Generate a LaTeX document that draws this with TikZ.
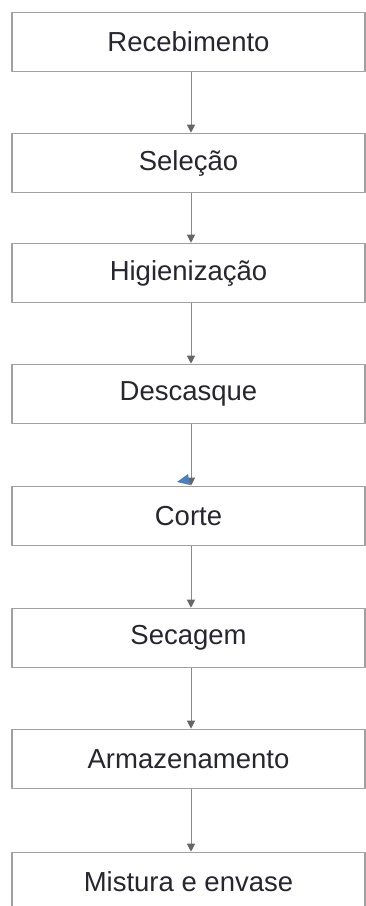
\documentclass[tikz,border=0pt]{standalone}
\usepackage{fontspec}
\setmainfont{Liberation Sans}
\usetikzlibrary{arrows.meta}

\definecolor{boxgray}{HTML}{A0A0A0}
\definecolor{linegray}{HTML}{8A8A8A}
\definecolor{tipgray}{HTML}{666666}
\definecolor{textdark}{HTML}{26262E}
\definecolor{tipblue}{HTML}{4A7FC0}

\tikzset{
  stepbox/.style={draw=boxgray, line width=1.6pt, fill=white,
    minimum width=353pt, minimum height=59pt, inner sep=0pt,
    text=textdark, font=\fontsize{27.5}{32}\selectfont},
  flow/.style={draw=linegray, line width=1pt,
    -{Triangle[width=8pt,length=8pt,color=tipgray]}}
}

\begin{document}
\begin{tikzpicture}[x=1pt, y=-1pt, line cap=round, line join=round]

  % ===== Page =====
  \useasboundingbox (0,0) rectangle (366,906);

  % ===== Process steps =====
  \def\cx{188.5}   % centre of the boxes
  \foreach \nm/\yy/\txt in {rec/42/Recebimento, sel/163/Seleção,
      hig/273/Higienização, des/394/Descasque, cor/516/Corte,
      sec/638/Secagem, arm/759/Armazenamento, mis/882/Mistura e envase}
    \node[stepbox] (\nm) at (\cx,\yy) {\txt};

  % ===== Connectors =====
  \foreach \a/\b in {rec/sel, sel/hig, hig/des, des/cor, cor/sec,
      sec/arm, arm/mis}
    \draw[flow] ([xshift=2.5pt]\a.south) -- ([xshift=2.5pt]\b.north);

  % small blue mark left of the tip above Corte
  \fill[tipblue] (177,482) -- (188,474) -- (190,485) -- cycle;

\end{tikzpicture}
\end{document}
